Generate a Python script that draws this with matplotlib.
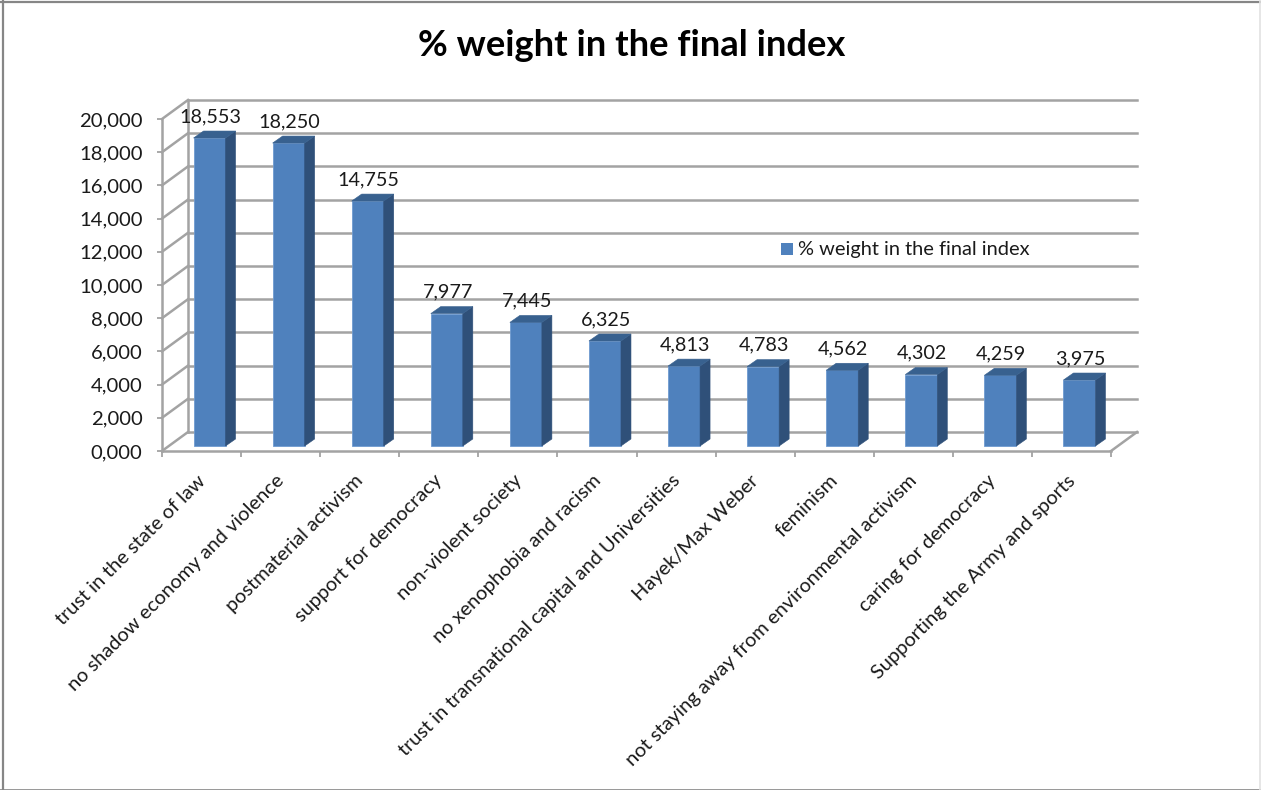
import matplotlib
matplotlib.use("Agg")
import matplotlib.pyplot as plt
from matplotlib.lines import Line2D
from matplotlib.patches import Polygon, Rectangle
from matplotlib.transforms import Affine2D

categories = ["trust in the state of law", "no shadow economy and violence",
              "postmaterial activism", "support for democracy", "non-violent society",
              "no xenophobia and racism", "trust in transnational capital and Universities",
              "Hayek/Max Weber", "feminism", "not staying away from environmental activism",
              "caring for democracy", "Supporting the Army and sports"]
values = [18553, 18250, 14755, 7977, 7445, 6325, 4813, 4783, 4562, 4302, 4259, 3975]
value_labels = ["18,553", "18,250", "14,755", "7,977", "7,445", "6,325",
                "4,813", "4,783", "4,562", "4,302", "4,259", "3,975"]
y_ticks = [0, 2000, 4000, 6000, 8000, 10000, 12000, 14000, 16000, 18000, 20000]
y_labels = ["0,000", "2,000", "4,000", "6,000", "8,000", "10,000", "12,000",
            "14,000", "16,000", "18,000", "20,000"]
title = "% weight in the final index"

W, H = 1261, 790
plt.rcParams["font.family"] = ["Lato", "DejaVu Sans"]
GRID = "#a3a3a3"
FRONT = "#4f81bd"
SIDE = "#2f5079"
TOP = "#38618f"
TEXT = "#1a1a1a"

fig = plt.figure(figsize=(W / 100, H / 100), dpi=100)
fig.patch.set_facecolor("white")

# picture border: heavy on three sides, faint on the right
for xs, ys, col, lw in [([3, 3], [0, 790], "#868686", 1.6),
                        ([0, 1261], [788, 788], "#868686", 1.6),
                        ([0, 1261], [0.5, 0.5], "#868686", 1.2),
                        ([1260, 1260], [0, 790], "#e2e2e2", 1.2)]:
    fig.add_artist(Line2D([x / W for x in xs], [y / H for y in ys], color=col, lw=lw))

# front plane of the 3d box
ax = fig.add_axes([162 / W, (H - 451) / H, 949 / W, 332 / H])
ax.set_xlim(-0.5, len(values) - 0.5)
ax.set_ylim(0, 20000)
ax.patch.set_visible(False)
for s in ["top", "right"]:
    ax.spines[s].set_visible(False)
for s in ["left", "bottom"]:
    ax.spines[s].set_color(GRID)
    ax.spines[s].set_linewidth(1.8)


def shift(dx, dy):
    return ax.transData + Affine2D().translate(dx, dy)


# back wall, floor and side
back = shift(26, 19)
for t in y_ticks:
    ax.plot([-0.5, len(values) - 0.5], [t, t], color=GRID, lw=1.8, transform=back,
            clip_on=False, zorder=1)
    x0, y0 = ax.transData.transform((-0.5, t))
    ax.plot([x0, x0 + 26], [y0, y0 + 19], color=GRID, lw=1.8, clip_on=False, zorder=1,
            transform=None)
ax.plot([-0.5, -0.5], [0, 20000], color=GRID, lw=1.8, transform=back, clip_on=False, zorder=1)
x1, y1 = ax.transData.transform((len(values) - 0.5, 0))
ax.plot([x1, x1 + 26], [y1, y1 + 19], color=GRID, lw=1.8, clip_on=False, zorder=1, transform=None)

# bars: front face, then side and top
bar_w = 32 / 79
base = shift(8, 5)
for i, v in enumerate(values):
    l, r = i - bar_w / 2, i + bar_w / 2
    ax.add_patch(Rectangle((l, 0), bar_w, v, fc=FRONT, ec="#6f9bd0", lw=0.6,
                           transform=base, zorder=3, clip_on=False))
    p0 = base.transform([(r, 0), (r, v), (l, v)])
    px = p0[:, 0]
    py = p0[:, 1]
    ax.add_patch(Polygon([(px[0], py[0]), (px[1], py[1]), (px[1] + 10, py[1] + 7),
                          (px[0] + 10, py[0] + 7)], closed=True, fc=SIDE, ec=SIDE, lw=0.4,
                         transform=None, zorder=3, clip_on=False))
    ax.add_patch(Polygon([(px[2], py[2]), (px[1], py[1]), (px[1] + 10, py[1] + 7),
                          (px[2] + 10, py[2] + 7)], closed=True, fc=TOP, ec=TOP, lw=0.4,
                         transform=None, zorder=3, clip_on=False))
    ax.annotate(value_labels[i], (i, v), xycoords=base, xytext=(1, 13), textcoords="offset pixels",
                ha="center", va="bottom", fontsize=14.2, color=TEXT, zorder=5)

ax.set_yticks(y_ticks)
ax.set_yticklabels(y_labels, fontsize=14.6, color=TEXT)
ax.tick_params(axis="y", length=3.5, width=1.3, color=GRID, pad=10.5)
ax.set_xticks([i - 0.5 for i in range(len(values) + 1)])
ax.set_xticklabels([""] * (len(values) + 1))
ax.tick_params(axis="x", length=4, width=1.3, color=GRID)

for i, c in enumerate(categories):
    ax.annotate(c, (i, 0), xycoords="data", xytext=(-5, -21), textcoords="offset pixels",
                rotation=45, rotation_mode="anchor", ha="right", va="top",
                fontsize=14.4, color=TEXT)

fig.text(632 / W, (H - 45) / H, title, ha="center", va="center", fontsize=26.2,
         fontweight="bold", color="black")

fig.add_artist(Rectangle((781 / W, (H - 255) / H), 12 / W, 12 / H, transform=fig.transFigure,
                         fc=FRONT, ec="none"))
fig.text(798 / W, (H - 249) / H, title, ha="left", va="center", fontsize=14.4, color=TEXT)

fig.savefig("out.png", dpi=100)
